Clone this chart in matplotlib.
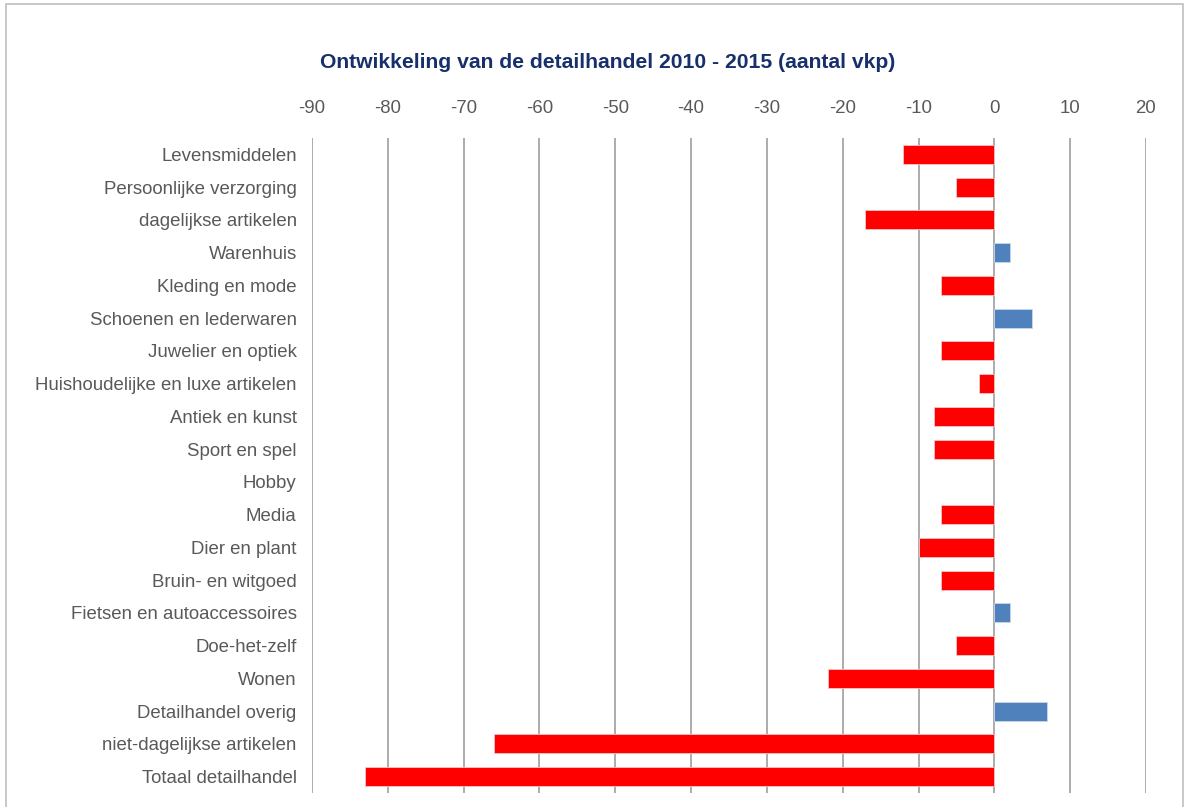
"""
Ontwikkeling van de detailhandel 2010 - 2015 (aantal vkp), horizontal bar chart.
"""

import matplotlib
matplotlib.use("Agg")
import matplotlib.pyplot as plt
import matplotlib.patches as mpatches
import numpy as np

plt.rcParams.update({
    "font.family": ["Liberation Sans", "DejaVu Sans"],
    "font.size": 13,
})

categories = [
    "Levensmiddelen",
    "Persoonlijke verzorging",
    "dagelijkse artikelen",
    "Warenhuis",
    "Kleding en mode",
    "Schoenen en lederwaren",
    "Juwelier en optiek",
    "Huishoudelijke en luxe artikelen",
    "Antiek en kunst",
    "Sport en spel",
    "Hobby",
    "Media",
    "Dier en plant",
    "Bruin- en witgoed",
    "Fietsen en autoaccessoires",
    "Doe-het-zelf",
    "Wonen",
    "Detailhandel overig",
    "niet-dagelijkse artikelen",
    "Totaal detailhandel",
]
values = [-12, -5, -17, 2, -7, 5, -7, -2, -8, -8, 0, -7, -10, -7, 2, -5, -22, 7, -66, -83]
x_ticks = [-90, -80, -70, -60, -50, -40, -30, -20, -10, 0, 10, 20]

NEG_COLOR = "#FF0000"
POS_COLOR = "#4F81BD"
GRID_COLOR = "#A6A6A6"
TEXT_COLOR = "#595959"
TITLE_COLOR = "#17306B"


def main():
    fig = plt.figure(figsize=(11.92, 8.07), dpi=100)
    fig.patch.set_facecolor("white")

    # outer chart border
    fig.add_artist(mpatches.Rectangle(
        (6 / 1192, -0.02), 1177 / 1192, 1 - 4 / 807 + 0.02,
        transform=fig.transFigure, fill=False, edgecolor="#BFBFBF", linewidth=1.2,
    ))

    ax = fig.add_axes([312 / 1192, 1 - 793 / 807, (1146 - 312) / 1192, (793 - 138) / 807])

    y = np.arange(len(categories))
    colors = [POS_COLOR if v > 0 else NEG_COLOR for v in values]
    edges = ["#C9D7EA" if v > 0 else "#F6C6C6" for v in values]
    widths = [0.6 if v != 0 else 0 for v in values]
    ax.barh(y, values, height=0.58, color=colors, edgecolor=edges,
            linewidth=widths, zorder=3)

    ax.set_xlim(x_ticks[0], x_ticks[-1])
    ax.set_ylim(len(categories) - 0.5, -0.5)
    ax.set_xticks(x_ticks)
    ax.set_xticklabels([str(t) for t in x_ticks])
    ax.xaxis.tick_top()
    ax.set_yticks(y)
    ax.set_yticklabels(categories)
    ax.tick_params(axis="both", length=0, colors=TEXT_COLOR, labelsize=13.4)
    ax.tick_params(axis="x", pad=15)
    ax.tick_params(axis="y", pad=11)

    ax.grid(True, axis="x", color=GRID_COLOR, linewidth=1.3, zorder=1)
    ax.set_axisbelow(True)
    for s in ax.spines.values():
        s.set_visible(False)

    fig.text(608 / 1192, 1 - 62 / 807,
             "Ontwikkeling van de detailhandel 2010 - 2015 (aantal vkp)",
             ha="center", va="center", fontsize=15.2, fontweight="bold",
             color=TITLE_COLOR)

    fig.savefig("out.png", dpi=100, facecolor="white")
    plt.close(fig)


if __name__ == "__main__":
    main()
